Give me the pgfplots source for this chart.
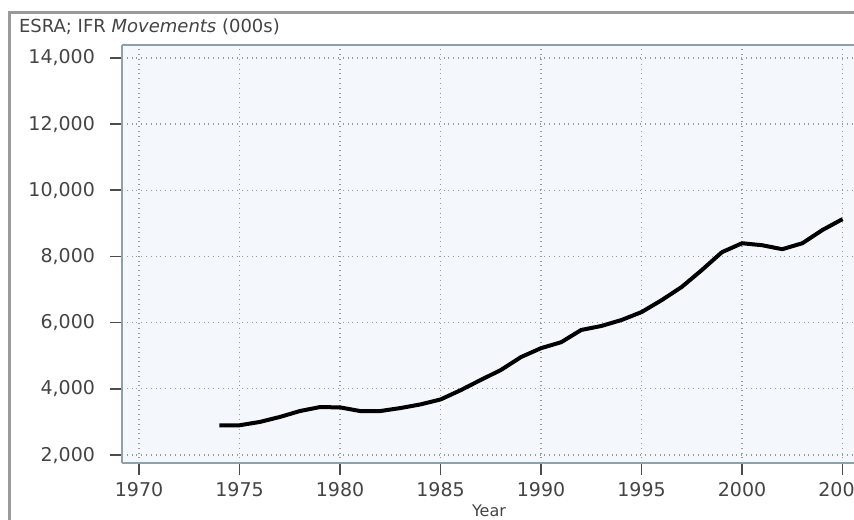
\documentclass[border=0pt]{standalone}
\usepackage{fontspec}
\setmainfont{DejaVu Sans}
\usepackage{pgfplots}
\pgfplotsset{compat=1.18}

\definecolor{plotbg}{HTML}{F4F8FC}
\definecolor{spine}{HTML}{8FA0A8}
\definecolor{gridc}{HTML}{999999}
\definecolor{txt}{HTML}{444444}
\definecolor{frame}{HTML}{9A9A9A}

\begin{document}
\begin{tikzpicture}[x=1pt,y=1pt]
\begin{axis}[
    at={(61pt,28pt)}, anchor=south west,
    scale only axis,
    width=367pt, height=209pt,
    xmin=1969.15, xmax=2005.67,
    ymin=1760, ymax=14390,
    xtick={1970,1975,...,2005},
    ytick={2000,4000,...,14000},
    scaled ticks=false,
    xticklabel style={/pgf/number format/1000 sep={}},
    /pgf/number format/assume math mode=true,
    yticklabel style={/pgf/number format/1000 sep={,}, xshift=-4pt},
    ticklabel style={font=\fontsize{9.5}{10}\selectfont, text=txt},
    tick align=outside,
    major tick length=6pt,
    tick style={black!70, line width=0.8pt},
    axis x line*=bottom, axis y line*=left,
    axis line style={spine, line width=1pt, -},
    axis background/.style={fill=plotbg},
    grid=major,
    major grid style={gridc, dotted, line width=0.6pt},
    xlabel={Year},
    xlabel style={font=\fontsize{8}{9}\selectfont, text=txt, at={(axis description cs:0.5,0)}, anchor=center, yshift=-24pt},
    clip=false,
]
\draw[spine, line width=0.6pt] (rel axis cs:0,1) -- (rel axis cs:1,1);
\addplot[black, line width=2pt, line join=round] coordinates {
    (1974,2900) (1975,2900) (1976,3000) (1977,3150) (1978,3330)
    (1979,3450) (1980,3440) (1981,3330) (1982,3330) (1983,3420)
    (1984,3530) (1985,3680) (1986,3960) (1987,4270) (1988,4570)
    (1989,4960) (1990,5230) (1991,5410) (1992,5780) (1993,5900)
    (1994,6080) (1995,6320) (1996,6680) (1997,7080) (1998,7590)
    (1999,8130) (2000,8400) (2001,8340) (2002,8220) (2003,8400)
    (2004,8800) (2005,9130)
};
\end{axis}
\draw[frame, line width=1.5pt] (4.5,-5) -- (4.5,253.25) -- (440,253.25);
\node[anchor=west, text=txt, font=\fontsize{9}{10}\selectfont] at (6,246) {ESRA; IFR \textit{Movements} (000s)};
\pgfresetboundingbox
\useasboundingbox (0,0) rectangle (427,259.5);
\end{tikzpicture}
\end{document}
